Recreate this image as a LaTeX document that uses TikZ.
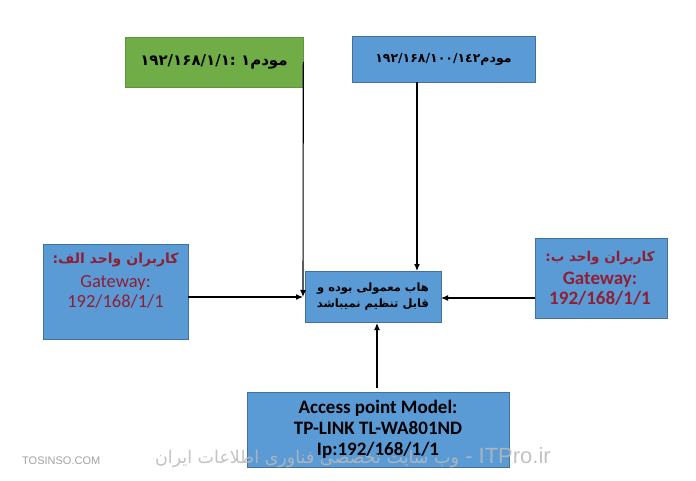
\documentclass[tikz,border=0pt]{standalone}
\usepackage{fontspec}
\usetikzlibrary{arrows.meta}
\TeXXeTstate=1
\setmainfont{Carlito}
\newfontfamily\arabicfont[Script=Arabic]{DejaVu Sans}
\newfontfamily\wmfont{Liberation Sans}
\definecolor{boxblue}{HTML}{5B9BD5}
\definecolor{boxedge}{HTML}{41719C}
\definecolor{boxgreen}{HTML}{70AD47}
\definecolor{darkred}{HTML}{8E1F35}
\tikzset{
  bbox/.style={draw=boxedge, fill=boxblue, line width=0.8pt, inner sep=0pt, align=center},
  gbox/.style={draw=boxgreen!85!black, fill=boxgreen, line width=0.6pt, inner sep=0pt, align=center},
  txt/.style={inner sep=0pt, align=center},
  arr/.style={line width=1.1pt, -{Latex[length=7pt,width=6pt]}},
  wm/.style={opacity=0.85, inner sep=0pt}
}
\begin{document}
\begin{tikzpicture}[x=1pt,y=-1pt]
\useasboundingbox[fill=white] (0,0) rectangle (696,481);
% boxes
\node[gbox, minimum width=178pt, minimum height=50pt,
  font=\arabicfont\bfseries\fontsize{15}{18}\selectfont] (m1) at (214,62)
  {\beginR مودم۱ \beginL۱۹۲/۱۶۸/۱/۱\hbox{:}\endL\endR};
\node[bbox, minimum width=183pt, minimum height=46pt,
  font=\arabicfont\bfseries\fontsize{12.5}{15}\selectfont] (m2) at (443.5,59)
  {\beginR مودم\beginL۱۹۲/۱۶۸/۱۰۰/۱\hbox{٤}\hbox{۲}\endL\endR};
\node[bbox, minimum width=145pt, minimum height=95pt] (ua) at (115.5,291.5) {};
\node[txt, text=darkred, font=\arabicfont\bfseries\fontsize{14}{16}\selectfont] (ua1) at (115.5,260) {\beginR کاربران واحد الف:\endR};
\node[txt, text=darkred, font=\fontsize{18.5}{20}\selectfont] (ua2) at (115.5,292) {Gateway:\\192/168/1/1};
\node[bbox, minimum width=132pt, minimum height=80pt] (ub) at (601,278) {};
\node[txt, text=darkred, font=\arabicfont\bfseries\fontsize{13.5}{16}\selectfont] (ub1) at (600,258) {\beginR کاربران واحد ب:\endR};
\node[txt, text=darkred, font=\bfseries\fontsize{19}{20}\selectfont] (ub2) at (600,289) {Gateway:\\192/168/1/1};
\node[bbox, minimum width=136pt, minimum height=51pt,
  font=\arabicfont\bfseries\fontsize{11.5}{16}\selectfont] (hub) at (373,296.5)
  {\beginR هاب معمولی بوده و\endR\\\beginR قابل تنظیم نمیباشد\endR};
\node[bbox, minimum width=262pt, minimum height=75pt,
  font=\bfseries\fontsize{19}{21}\selectfont] (ap) at (378,429.5)
  {Access point Model:\\TP-LINK TL-WA801ND\\Ip:192/168/1/1};
% junction points
\coordinate (jl) at (303,297);
\coordinate (jt) at (417,271);
\coordinate (jr) at (441,298);
\coordinate (jb) at (377,323);
% connectors
\draw[arr] (m1.east) -- (jl);
\draw[arr] (ua.east |- jl) -- (jl);
\draw[arr] (m2.south -| jt) -- (jt);
\draw[arr] (ub.west |- jr) -- (jr);
\draw[arr] (ap.north -| jb) ++(0,-4) -- (jb);
% watermark
\node[wm, text=gray!85, anchor=west, font=\wmfont\fontsize{11}{11}\selectfont] (wm1) at (22,461) {TOSINSO.COM};
\node[wm, text=gray!55, anchor=east, font=\wmfont\fontsize{22}{22}\selectfont] (wm2) at (551,458)
  {{\arabicfont\fontsize{17.5}{17.5}\selectfont\beginR وب سایت تخصصی فناوری اطلاعات ایران\endR}\ - ITPro.ir};
\end{tikzpicture}
\end{document}
